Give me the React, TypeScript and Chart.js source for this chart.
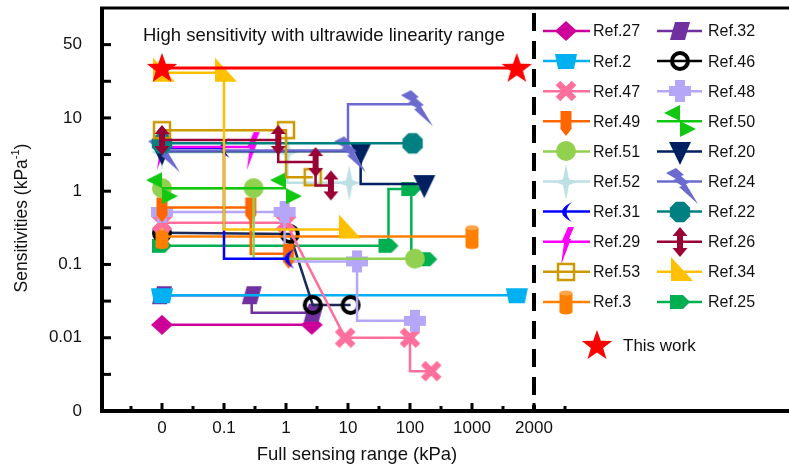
import React, { useEffect, useRef } from 'react';
import { Chart, registerables } from 'chart.js';

Chart.register(...registerables);

const FONT = "'Liberation Sans', Arial, sans-serif";

// Tick labels (evenly spaced positions on both axes)
const xTickLabels = ['0', '0.1', '1', '10', '100', '1000', '2000'];
const yTickLabels = ['0', '0.01', '0.1', '1', '10', '50'];

// Series: full sensing range (kPa) / sensitivity (kPa^-1)
const thisWorkX = [0, 1650];
const thisWorkY = [30, 30];
const ref34X = [0, 0.1, 10];
const ref34Y = [27, 27, 0.3];
const ref26X = [0, 0.75, 3, 5.3];
const ref26Y = [5, 5, 2.5, 1.2];
const ref53X = [0, 1, 2.7];
const ref53Y = [6.8, 6.8, 1.55];
const ref22X = [0, 110];
const ref22Y = [4.5, 4.5];
const ref24X = [0, 10, 120];
const ref24Y = [3.6, 3.6, 13.5];
const ref20X = [0, 16, 170];
const ref20Y = [3.5, 3.5, 1.25];
const ref29X = [0, 0.28];
const ref29Y = [4.0, 4.0];
const ref31X = [0, 0.1, 1.1];
const ref31Y = [3.9, 3.9, 0.12];
const ref52X = [0, 1.05, 10.5];
const ref52Y = [3.4, 3.4, 1.3];
const ref50X = [0, 1];
const ref50Y = [1.1, 1.1];
const ref51X = [0, 0.3, 120];
const ref51Y = [1.1, 1.1, 0.12];
const ref49X = [0, 0.27, 1.1];
const ref49Y = [0.6, 0.6, 0.14];
const ref48X = [0, 0.95, 14, 120];
const ref48Y = [0.52, 0.52, 0.11, 0.017];
const ref47X = [0, 1, 9, 100, 100, 220];
const ref47Y = [0.37, 0.37, 0.01, 0.01, 0.0035, 0.0035];
const ref3X = [0, 1000];
const ref3Y = [0.24, 0.24];
const ref46X = [0, 1.15, 2.7, 11];
const ref46Y = [0.27, 0.26, 0.028, 0.028];
const ref25X = [0, 45, 105, 190];
const ref25Y = [0.18, 0.18, 1.07, 0.118];
const ref2X = [0, 1650];
const ref2Y = [0.038, 0.038];
const ref32X = [0, 0.28, 2.8];
const ref32Y = [0.038, 0.038, 0.022];
const ref27X = [0, 2.6];
const ref27Y = [0.015, 0.015];

const legendCol1 = ['Ref.27', 'Ref.2', 'Ref.47', 'Ref.49', 'Ref.51', 'Ref.52', 'Ref.31', 'Ref.29', 'Ref.53', 'Ref.3'];
const legendCol2 = ['Ref.32', 'Ref.46', 'Ref.48', 'Ref.50', 'Ref.20', 'Ref.24', 'Ref.22', 'Ref.26', 'Ref.34', 'Ref.25'];

type Series = {
  label: string;
  xs: number[];
  ys: number[];
  color: string;
  line?: string;
  marker: string;
  stepped?: false | 'after';
  hide?: number[];
  width?: number;
};

const SERIES: Series[] = [
  { label: 'This work', xs: thisWorkX, ys: thisWorkY, color: '#FF0000', marker: 'star5', width: 3 },
  { label: 'Ref.34', xs: ref34X, ys: ref34Y, color: '#FFC000', marker: 'rightTri', stepped: 'after' },
  { label: 'Ref.26', xs: ref26X, ys: ref26Y, color: '#990033', marker: 'dblArrow', stepped: 'after' },
  { label: 'Ref.53', xs: ref53X, ys: ref53Y, color: '#CC9900', marker: 'openSquare', stepped: 'after' },
  { label: 'Ref.22', xs: ref22X, ys: ref22Y, color: '#008080', marker: 'octagon' },
  { label: 'Ref.24', xs: ref24X, ys: ref24Y, color: '#6B6BCF', marker: 'bolt', stepped: 'after' },
  { label: 'Ref.20', xs: ref20X, ys: ref20Y, color: '#002060', marker: 'invTri', stepped: 'after' },
  { label: 'Ref.29', xs: ref29X, ys: ref29Y, color: '#FF00FF', marker: 'sliver' },
  { label: 'Ref.31', xs: ref31X, ys: ref31Y, color: '#0000FF', marker: 'crescent', stepped: 'after' },
  { label: 'Ref.52', xs: ref52X, ys: ref52Y, color: '#BCE0E4', marker: 'star4', stepped: 'after' },
  { label: 'Ref.50', xs: ref50X, ys: ref50Y, color: '#11C811', marker: 'bowtie' },
  { label: 'Ref.51', xs: ref51X, ys: ref51Y, color: '#92D050', marker: 'circle', stepped: 'after' },
  { label: 'Ref.49', xs: ref49X, ys: ref49Y, color: '#FF6600', marker: 'pencil', stepped: 'after' },
  { label: 'Ref.48', xs: ref48X, ys: ref48Y, color: '#B6A6F8', marker: 'plus', stepped: 'after' },
  { label: 'Ref.47', xs: ref47X, ys: ref47Y, color: '#FF6F9C', marker: 'cross', hide: [4] },
  { label: 'Ref.3', xs: ref3X, ys: ref3Y, color: '#FF8000', marker: 'cylinder' },
  { label: 'Ref.46', xs: ref46X, ys: ref46Y, color: '#000000', line: '#1C2A5A', marker: 'ring' },
  { label: 'Ref.25', xs: ref25X, ys: ref25Y, color: '#00B050', marker: 'pentagon', stepped: 'after' },
  { label: 'Ref.2', xs: ref2X, ys: ref2Y, color: '#00B0F0', marker: 'trapezoid' },
  { label: 'Ref.32', xs: ref32X, ys: ref32Y, color: '#7030A0', marker: 'parallelogram', stepped: 'after' },
  { label: 'Ref.27', xs: ref27X, ys: ref27Y, color: '#CC0099', marker: 'diamond' },
];

// axis transforms (piecewise log axes as in the reference)
const xPos = (k: number) => (k <= 0 ? 0 : k <= 1000 ? Math.log10(k) + 2 : 5 + Math.log2(k / 1000));
const yPos = (s: number) => (s <= 10 ? Math.log10(s) + 3 : 4 + Math.log10(s / 10) / Math.log10(5));

function makeMarker(kind: string, color: string): HTMLCanvasElement {
  const c = document.createElement('canvas');
  c.width = 48;
  c.height = 56;
  const g = c.getContext('2d')!;
  g.translate(24, 28);
  g.fillStyle = color;
  g.strokeStyle = color;
  const poly = (pts: number[][]) => {
    g.beginPath();
    pts.forEach(([x, y], i) => (i ? g.lineTo(x, y) : g.moveTo(x, y)));
    g.closePath();
    g.fill();
  };
  switch (kind) {
    case 'star5': {
      const pts: number[][] = [];
      for (let i = 0; i < 10; i++) {
        const r = i % 2 === 0 ? 16 : 6.5;
        const a = -Math.PI / 2 + (i * Math.PI) / 5;
        pts.push([r * Math.cos(a), r * Math.sin(a) + 1]);
      }
      poly(pts);
      break;
    }
    case 'rightTri':
      poly([[-9, -15], [-9, 9], [13, 9]]);
      break;
    case 'dblArrow':
      g.fillRect(-3, -8, 6, 16);
      poly([[0, -15], [7.5, -6], [-7.5, -6]]);
      poly([[0, 15], [7.5, 6], [-7.5, 6]]);
      break;
    case 'openSquare':
      g.lineWidth = 2.5;
      g.strokeRect(-8, -8, 16, 16);
      break;
    case 'octagon': {
      const pts: number[][] = [];
      for (let i = 0; i < 8; i++) {
        const a = Math.PI / 8 + (i * Math.PI) / 4;
        pts.push([11 * Math.cos(a), 11 * Math.sin(a)]);
      }
      poly(pts);
      break;
    }
    case 'bolt':
      poly([[-4, -14], [4, -7], [1, -6], [9, 1], [6, 2], [18, 22], [-1, 5], [2, 4], [-7, -2], [-4, -3], [-14, -9]]);
      break;
    case 'invTri':
      poly([[-11, -9], [11, -9], [0, 14]]);
      break;
    case 'sliver':
      poly([[2, -15], [8, -15], [3, -3], [5, -3], [-5, 23], [-2, 1], [-5, 1]]);
      break;
    case 'crescent':
      g.beginPath();
      g.moveTo(6, -10);
      g.quadraticCurveTo(-14, 0, 6, 10);
      g.quadraticCurveTo(-5, 0, 6, -10);
      g.closePath();
      g.fill();
      break;
    case 'star4':
      poly([[0, -18], [3, -3], [11, 0], [3, 3], [0, 18], [-3, 3], [-11, 0], [-3, -3]]);
      break;
    case 'bowtie':
      poly([[0, -16], [0, 0], [-16, -8]]);
      poly([[0, 0], [0, 16], [16, 8]]);
      break;
    case 'circle':
      g.beginPath();
      g.arc(0, 0, 10, 0, Math.PI * 2);
      g.fill();
      break;
    case 'pencil':
      g.fillRect(-5.5, -10, 11, 18);
      poly([[-5.5, 8], [5.5, 8], [0, 15]]);
      break;
    case 'plus':
      g.fillRect(-11, -5, 22, 10);
      g.fillRect(-5, -11, 10, 22);
      break;
    case 'cross':
      g.lineWidth = 6.5;
      g.beginPath();
      g.moveTo(-8, -8);
      g.lineTo(8, 8);
      g.moveTo(8, -8);
      g.lineTo(-8, 8);
      g.stroke();
      break;
    case 'cylinder':
      g.fillRect(-6.5, -9, 13, 19);
      g.beginPath();
      g.ellipse(0, 10, 6.5, 2.5, 0, 0, Math.PI * 2);
      g.fill();
      g.fillStyle = '#FFA64D';
      g.beginPath();
      g.ellipse(0, -9, 6.5, 2.5, 0, 0, Math.PI * 2);
      g.fill();
      break;
    case 'ring':
      g.lineWidth = 4;
      g.beginPath();
      g.arc(0, 0, 8, 0, Math.PI * 2);
      g.stroke();
      break;
    case 'pentagon':
      poly([[-10, -7], [3, -7], [10, 0], [3, 7], [-10, 7]]);
      break;
    case 'trapezoid':
      poly([[-11, -7], [11, -7], [8, 8], [-8, 8]]);
      break;
    case 'parallelogram':
      poly([[-5, -9], [10, -9], [5, 9], [-10, 9]]);
      break;
    case 'diamond':
      poly([[0, -10], [11, 0], [0, 10], [-11, 0]]);
      break;
  }
  return c;
}

export default function App() {
  const ref = useRef<HTMLCanvasElement | null>(null);

  useEffect(() => {
    if (!ref.current) return;
    const markers: Record<string, HTMLCanvasElement> = {};
    SERIES.forEach((s) => {
      markers[s.label] = makeMarker(s.marker, s.color);
    });

    const datasets = SERIES.map((s) => ({
      label: s.label,
      data: s.xs.map((x, i) => ({ x: xPos(x), y: yPos(s.ys[i]) })),
      borderColor: s.line || s.color,
      backgroundColor: s.color,
      borderWidth: s.width || 2.5,
      stepped: s.stepped || false,
      tension: 0,
      pointStyle: markers[s.label] as any,
      pointRadius: s.xs.map((_, i) => (s.hide && s.hide.includes(i) ? 0 : 10)),
      pointHoverRadius: 10,
      fill: false,
    }));

    const decor = {
      id: 'decor',
      afterDraw(chart: any) {
        const { ctx, chartArea: a, scales } = chart;
        const x = scales.x;
        const y = scales.y;
        ctx.save();
        ctx.strokeStyle = '#000';
        // dashed separator at 2000
        const dx = x.getPixelForValue(6);
        ctx.lineWidth = 4;
        ctx.setLineDash([18, 10]);
        ctx.beginPath();
        ctx.moveTo(dx, a.top + 5);
        ctx.lineTo(dx, a.bottom);
        ctx.stroke();
        ctx.setLineDash([]);
        // frame
        const L = a.left + 2;
        ctx.lineWidth = 4;
        ctx.beginPath();
        ctx.moveTo(L, a.top - 1);
        ctx.lineTo(L, a.bottom);
        ctx.lineTo(a.right, a.bottom);
        ctx.stroke();
        ctx.lineWidth = 3;
        ctx.beginPath();
        ctx.moveTo(L - 2, a.top);
        ctx.lineTo(a.right, a.top);
        ctx.stroke();
        // y ticks (inward)
        ctx.lineWidth = 3;
        for (let v = 0.5; v <= 5; v += 0.5) {
          const py = y.getPixelForValue(v);
          ctx.beginPath();
          ctx.moveTo(L, py);
          ctx.lineTo(L + 9, py);
          ctx.stroke();
        }
        // x ticks (inward)
        for (let v = -0.5; v <= 6.5; v += 0.5) {
          const px = x.getPixelForValue(v);
          const major = Number.isInteger(v);
          ctx.beginPath();
          ctx.moveTo(px, a.bottom);
          ctx.lineTo(px, a.bottom - (major ? 8 : 5));
          ctx.stroke();
        }
        // annotation
        ctx.fillStyle = '#111';
        ctx.textBaseline = 'middle';
        ctx.textAlign = 'left';
        ctx.font = `18.5px ${FONT}`;
        ctx.fillText('High sensitivity with ultrawide linearity range', 143, 36);
        // axis titles
        ctx.font = `18.5px ${FONT}`;
        ctx.textAlign = 'center';
        ctx.fillText('Full sensing range (kPa)', 357, 455);
        ctx.save();
        ctx.translate(22, 218);
        ctx.rotate(-Math.PI / 2);
        ctx.textAlign = 'left';
        const main = 'Sensitivities (kPa';
        ctx.font = `17.5px ${FONT}`;
        const w1 = ctx.measureText(main).width;
        ctx.font = `11px ${FONT}`;
        const w2 = ctx.measureText('-1').width;
        ctx.font = `17.5px ${FONT}`;
        const w3 = ctx.measureText(')').width;
        const start = -(w1 + w2 + w3) / 2;
        ctx.fillText(main, start, 0);
        ctx.font = `11px ${FONT}`;
        ctx.fillText('-1', start + w1, -6);
        ctx.font = `17.5px ${FONT}`;
        ctx.fillText(')', start + w1 + w2, 0);
        ctx.restore();
        // legend
        const drawEntry = (label: string, cx: number, cy: number, x0: number, x1: number, tx: number) => {
          const s = SERIES.find((q) => q.label === label)!;
          ctx.strokeStyle = label === 'Ref.46' ? '#000' : s.color;
          ctx.lineWidth = 2.5;
          ctx.beginPath();
          ctx.moveTo(x0, cy);
          ctx.lineTo(x1, cy);
          ctx.stroke();
          const m = markers[label];
          ctx.drawImage(m, Math.round(cx - m.width / 2), Math.round(cy - m.height / 2));
          ctx.fillStyle = '#111';
          ctx.font = `16px ${FONT}`;
          ctx.textAlign = 'left';
          ctx.fillText(label, tx, cy + 1);
        };
        legendCol1.forEach((lb, i) => drawEntry(lb, 566, 31 + 30.1 * i, 543, 590, 593));
        legendCol2.forEach((lb, i) => drawEntry(lb, 680, 31 + 30.1 * i, 657, 702, 708));
        const star = markers['This work'];
        ctx.drawImage(star, 597 - star.width / 2, 345 - star.height / 2);
        ctx.fillStyle = '#111';
        ctx.font = `17px ${FONT}`;
        ctx.fillText('This work', 623, 346);
        ctx.restore();
      },
    };

    const chart = new Chart(ref.current, {
      type: 'line',
      data: { datasets: datasets as any },
      options: {
        animation: false,
        responsive: false,
        maintainAspectRatio: false,
        layout: { autoPadding: false, padding: { top: 8, left: 0, right: 0, bottom: 0 } },
        plugins: { legend: { display: false }, tooltip: { enabled: false } },
        scales: {
          x: {
            type: 'linear',
            min: -1,
            max: 10.113,
            grid: { display: false, drawTicks: false },
            border: { display: false },
            afterBuildTicks: (s: any) => {
              s.ticks = xTickLabels.map((_, i) => ({ value: i }));
            },
            afterFit: (s: any) => {
              s.height = 61;
              s.paddingLeft = 0;
              s.paddingRight = 0;
            },
            ticks: {
              autoSkip: false,
              maxRotation: 0,
              padding: 7,
              color: '#111',
              font: { family: FONT, size: 17 },
              callback: (_v: any, i: number) => xTickLabels[i],
            },
          },
          y: {
            type: 'linear',
            min: 0,
            max: 5.5,
            grid: { display: false, drawTicks: false },
            border: { display: false },
            afterBuildTicks: (s: any) => {
              s.ticks = yTickLabels.map((_, i) => ({ value: i }));
            },
            afterFit: (s: any) => {
              s.width = 100;
              s.paddingTop = 0;
              s.paddingBottom = 0;
            },
            ticks: {
              autoSkip: false,
              padding: 18,
              color: '#111',
              font: { family: FONT, size: 17 },
              callback: (_v: any, i: number) => yTickLabels[i],
            },
          },
        },
      },
      plugins: [decor],
    });
    return () => chart.destroy();
  }, []);

  return (
    <div style={{ position: 'fixed', left: 0, top: 0, width: 789, height: 472, background: '#fff' }}>
      <canvas ref={ref} width={789} height={472} style={{ width: 789, height: 472, display: 'block' }} />
    </div>
  );
}
